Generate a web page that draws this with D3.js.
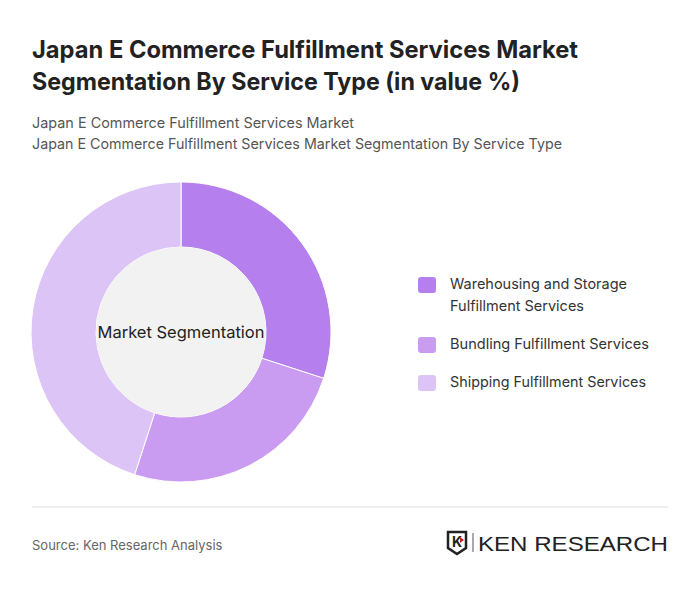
<!DOCTYPE html>
<html><head><meta charset="utf-8">
<script src="https://cdn.jsdelivr.net/npm/d3@7"></script>
<style>body{margin:0;background:#fff;font-family:Inter,"Open Sans",sans-serif}</style>
</head><body>
<svg id="chart" width="700" height="591"></svg>
<script>
// datos del grafico
const categorias = ["Warehousing and Storage Fulfillment Services", "Bundling Fulfillment Services", "Shipping Fulfillment Services"];
const valores = [30, 25, 45];
const colores = ["#b580ee", "#c99cf1", "#dcc5f6"];
const leyenda_lineas = [["Warehousing and Storage", "Fulfillment Services"], ["Bundling Fulfillment Services"], ["Shipping Fulfillment Services"]];

const svg = d3.select("#chart");

// titulo
svg.append("text").attr("x", 32).attr("y", 58).attr("font-size", 24).attr("font-weight", 700).attr("fill", "#222")
  .attr("textLength", 546).attr("lengthAdjust", "spacingAndGlyphs")
  .text("Japan E Commerce Fulfillment Services Market");
svg.append("text").attr("x", 32).attr("y", 90).attr("font-size", 24).attr("font-weight", 700).attr("fill", "#222")
  .attr("textLength", 488).attr("lengthAdjust", "spacingAndGlyphs")
  .text("Segmentation By Service Type (in value %)");
svg.append("text").attr("x", 32).attr("y", 128).attr("font-size", 14.5).attr("fill", "#555")
  .attr("textLength", 322).attr("lengthAdjust", "spacingAndGlyphs")
  .text("Japan E Commerce Fulfillment Services Market");
svg.append("text").attr("x", 32).attr("y", 149).attr("font-size", 14.5).attr("fill", "#555")
  .attr("textLength", 530).attr("lengthAdjust", "spacingAndGlyphs")
  .text("Japan E Commerce Fulfillment Services Market Segmentation By Service Type");

// dona
const cx = 181, cy = 332;
const pie = d3.pie().sort(null).value(d => d);
const arco = d3.arc().innerRadius(85).outerRadius(150);
const g = svg.append("g").attr("transform", `translate(${cx},${cy})`);
g.selectAll("path").data(pie(valores)).join("path")
  .attr("d", arco).attr("fill", (d, i) => colores[i])
  .attr("stroke", "#fff").attr("stroke-width", 1);
g.append("circle").attr("r", 85).attr("fill", "#f2f2f2");
g.append("text").attr("text-anchor", "middle").attr("dy", 6).attr("font-size", 16.5).attr("fill", "#222")
  .text("Market Segmentation");

// leyenda
const ly = [285, 345, 383];
const lw = [[177, 134], [199], [196]];
leyenda_lineas.forEach((lineas, i) => {
  svg.append("rect").attr("x", 418).attr("y", ly[i] - 8).attr("width", 18).attr("height", 16)
    .attr("rx", 3).attr("fill", colores[i]);
  lineas.forEach((t, k) => {
    svg.append("text").attr("x", 450).attr("y", ly[i] + 4 + k * 22).attr("font-size", 14.5).attr("fill", "#333")
      .attr("textLength", lw[i][k]).attr("lengthAdjust", "spacingAndGlyphs").text(t);
  });
});

// pie de pagina
svg.append("line").attr("x1", 32).attr("x2", 668).attr("y1", 507).attr("y2", 507).attr("stroke", "#ddd");
svg.append("text").attr("x", 32).attr("y", 550).attr("font-size", 13).attr("fill", "#666").text("Source: Ken Research Analysis");

// logo
const lg = svg.append("g").attr("transform", "translate(448,532)");
lg.append("path").attr("d", "M0,0 H18 V16 L9,22 L0,16 Z").attr("fill", "none").attr("stroke", "#222").attr("stroke-width", 2.5);
lg.append("text").attr("x", 4).attr("y", 15).attr("font-size", 14).attr("font-weight", 700).attr("fill", "#222").text("K");
lg.append("path").attr("d", "M12,5 L16,8 L12,11 Z").attr("fill", "#d32027");
lg.append("line").attr("x1", 25).attr("x2", 25).attr("y1", 1).attr("y2", 20).attr("stroke", "#555");
lg.append("text").attr("x", 30).attr("y", 19).attr("font-size", 21).attr("font-family", "'Liberation Sans', sans-serif")
  .attr("fill", "#222").attr("textLength", 190).attr("lengthAdjust", "spacingAndGlyphs").text("KEN RESEARCH");
</script>
</body></html>
